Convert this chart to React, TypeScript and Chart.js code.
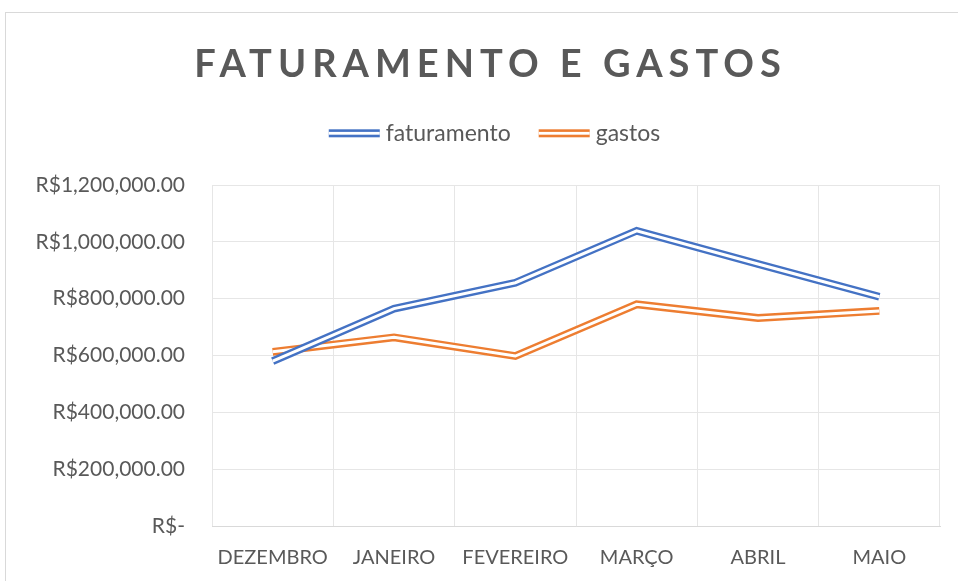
import React, { useEffect, useRef } from "react";
import { Chart, registerables } from "chart.js";

Chart.register(...registerables);

const categories = ["DEZEMBRO", "JANEIRO", "FEVEREIRO", "MARÇO", "ABRIL", "MAIO"];
const faturamento = [580000, 765000, 856000, 1039000, 922000, 807000];
const gastos = [613000, 664000, 598000, 780000, 732000, 757000];
const seriesNames = ["faturamento", "gastos"];
const seriesColors = ["#4472C4", "#ED7D31"];
const titleText = "FATURAMENTO E GASTOS";
const yMin = 0;
const yMax = 1200000;
const yStep = 200000;

const FONT = "Lato";
const TEXT_COLOR = "#595959";

function formatBRL(v: number): string {
  if (v === 0) return "R$-";
  return "R$" + v.toLocaleString("en-US", { minimumFractionDigits: 2, maximumFractionDigits: 2 });
}

const doubleLinePlugin = {
  id: "doubleLine",
  afterDatasetDraw(chart: any, args: any) {
    const pts = args.meta.data;
    if (!pts || !pts.length) return;
    const ctx = chart.ctx;
    ctx.save();
    ctx.strokeStyle = "#ffffff";
    ctx.lineWidth = 3;
    ctx.lineJoin = "miter";
    ctx.lineCap = "butt";
    ctx.beginPath();
    pts.forEach((p: any, i: number) => {
      if (i === 0) ctx.moveTo(p.x, p.y);
      else ctx.lineTo(p.x, p.y);
    });
    ctx.stroke();
    ctx.restore();
  },
};

const frameTitleLegendPlugin = {
  id: "frameTitleLegend",
  beforeDraw(chart: any) {
    const ctx = chart.ctx;
    ctx.save();
    ctx.fillStyle = "#ffffff";
    ctx.fillRect(0, 0, chart.width, chart.height);
    ctx.strokeStyle = "#d9d9d9";
    ctx.lineWidth = 1;
    ctx.strokeRect(5.5, 12.5, chart.width + 50, chart.height + 50);
    ctx.restore();
  },
  afterDraw(chart: any) {
    const ctx = chart.ctx;
    ctx.save();
    // Title
    ctx.fillStyle = TEXT_COLOR;
    ctx.font = `bold 38px ${FONT}`;
    (ctx as any).letterSpacing = "6px";
    ctx.textAlign = "center";
    ctx.textBaseline = "alphabetic";
    ctx.fillText(titleText, 490.5, 77);
    (ctx as any).letterSpacing = "0px";

    // Legend
    ctx.font = `23px ${FONT}`;
    const symW = 51;
    const symGap = 6;
    const itemGap = 28;
    const widths = chart.data.datasets.map((d: any) => ctx.measureText(d.label).width);
    let total = 0;
    widths.forEach((w: number, i: number) => {
      total += symW + symGap + w + (i < widths.length - 1 ? itemGap : 0);
    });
    let x = 494.5 - total / 2;
    const cy = 133.3;
    ctx.textAlign = "left";
    ctx.textBaseline = "middle";
    chart.data.datasets.forEach((d: any, i: number) => {
      ctx.fillStyle = d.borderColor;
      ctx.fillRect(x, cy - 4, symW, 8);
      ctx.fillStyle = "#ffffff";
      ctx.fillRect(x, cy - 1.4, symW, 2.8);
      ctx.fillStyle = TEXT_COLOR;
      ctx.fillText(d.label, x + symW + symGap, cy);
      x += symW + symGap + widths[i] + itemGap;
    });
    ctx.restore();
  },
};

export default function App() {
  const canvasRef = useRef<HTMLCanvasElement | null>(null);

  useEffect(() => {
    if (!canvasRef.current) return;
    const chart = new Chart(canvasRef.current, {
      type: "line",
      data: {
        labels: categories,
        datasets: [
          {
            label: seriesNames[0],
            data: faturamento,
            borderColor: seriesColors[0],
            backgroundColor: seriesColors[0],
            borderWidth: 7.8,
            pointRadius: 0,
            pointHoverRadius: 0,
            tension: 0,
            borderJoinStyle: "miter",
            borderCapStyle: "butt",
          },
          {
            label: seriesNames[1],
            data: gastos,
            borderColor: seriesColors[1],
            backgroundColor: seriesColors[1],
            borderWidth: 7.8,
            pointRadius: 0,
            pointHoverRadius: 0,
            tension: 0,
            borderJoinStyle: "miter",
            borderCapStyle: "butt",
          },
        ],
      },
      options: {
        responsive: false,
        animation: false,
        events: [],
        layout: { padding: { top: 185, right: 18, bottom: 0, left: 0 } },
        plugins: {
          legend: { display: false },
          title: { display: false },
          tooltip: { enabled: false },
        },
        scales: {
          x: {
            type: "category",
            offset: true,
            grid: { offset: true, color: "#e6e6e6", drawTicks: false, lineWidth: 1 },
            border: { color: "#d9d9d9", width: 1 },
            ticks: {
              color: TEXT_COLOR,
              font: { family: FONT, size: 20 },
              padding: 20,
              maxRotation: 0,
              autoSkip: false,
            },
            afterFit(scale: any) {
              scale.height = 55;
            },
          },
          y: {
            min: yMin,
            max: yMax,
            grid: { color: "#e6e6e6", drawTicks: false, lineWidth: 1 },
            border: { display: false },
            ticks: {
              stepSize: yStep,
              color: TEXT_COLOR,
              font: { family: FONT, size: 21 },
              padding: 27,
              callback: (v: any) => formatBRL(Number(v)),
            },
            afterFit(scale: any) {
              scale.width = 212;
            },
          },
        },
      },
      plugins: [doubleLinePlugin, frameTitleLegendPlugin],
    });
    return () => chart.destroy();
  }, []);

  return (
    <div style={{ position: "absolute", left: 0, top: 0, width: 958, height: 581 }}>
      <canvas ref={canvasRef} width={958} height={581} style={{ display: "block" }} />
    </div>
  );
}
